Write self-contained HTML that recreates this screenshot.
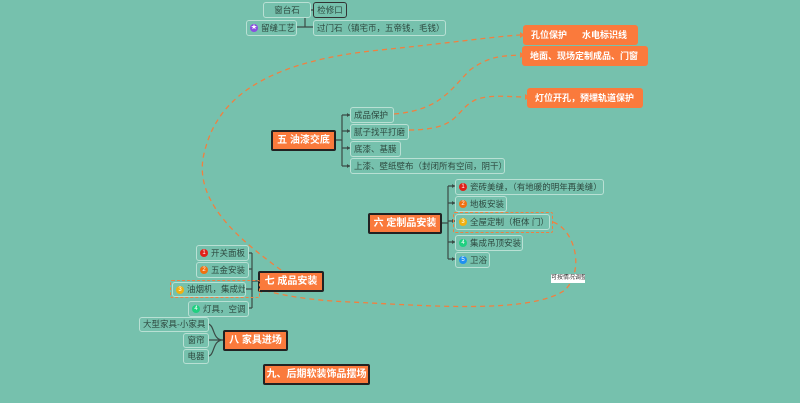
<!DOCTYPE html>
<html><head><meta charset="utf-8"><style>
html,body{margin:0;padding:0;width:800px;height:403px;overflow:hidden;background:#76c1ad;}
.b,.m,.o{position:absolute;box-sizing:border-box;display:flex;align-items:center;white-space:nowrap;overflow:hidden;font-family:"Liberation Sans","Noto Sans CJK SC",sans-serif;}
.b{border:1.5px solid #b9e0d4;border-radius:3px;font-size:8.5px;color:#2e4a40;padding:0 3px;background:#76c1ad;line-height:1;}
.m{border:2px solid #222;border-radius:2px;background:#fa7a3c;color:#fff;font-size:10px;font-weight:bold;justify-content:center;line-height:1;}
.o{border-radius:3px;background:#fa7a3c;color:#fff;font-size:9px;font-weight:bold;padding-left:8px;line-height:1;}
.i{display:inline-block;flex:none;width:8px;height:8px;border-radius:50%;color:#fff;font-size:6px;line-height:8px;text-align:center;margin-right:3px;}
.d{position:absolute;box-sizing:border-box;border:1.5px dashed #f08040;border-radius:2px;}
</style></head><body>
<svg width="800" height="403" style="position:absolute;left:0;top:0" fill="none">
<g stroke="#3a4a45" stroke-width="1.2">
<path d="M311 10H313M297 27H305M305 2V27M305 10H313M305 27H313"/>
<path d="M335 140H342M342 115V166M342 115H350M342 131H350M342 148H350M342 166H350"/>
<path d="M441 223H448M448 186V259M448 186H455M448 203H455M448 221H455M448 242H455M448 259H455"/>
<path d="M258 281H252M252 253V308M252 253H248M252 269H248M252 289H246M252 308H248"/>
<path d="M223 340C212 340 215 325 208 324M223 340H208M223 340C212 340 215 356 208 356"/>
</g>
<g stroke="#f08040" stroke-width="1.3" stroke-dasharray="5,4">
<path d="M281 270C240 240 190 200 205 150C220 90 280 60 380 50C450 43 490 37 520 35"/>
<path d="M394 114C440 110 450 90 470 70C490 55 505 56 520 55"/>
<path d="M409 130C460 130 455 110 475 100C490 94 510 97 525 97"/>
<path d="M553 222C575 230 585 270 565 290C530 315 420 305 350 302C300 300 275 293 262 290"/>
</g>
<g fill="#f08040"><path d="M520 32L525 35L520 38Z"/><path d="M520 52L525 55L520 58Z"/><path d="M525 94L530 97L525 100Z"/><path d="M262 287L257 290L262 293Z"/></g>
<g fill="#3a4a45"><path d="M350 115l-3-2v4zM350 131l-3-2v4zM350 148l-3-2v4zM350 166l-3-2v4zM455 186l-3-2v4zM455 203l-3-2v4zM455 221l-3-2v4zM455 242l-3-2v4zM455 259l-3-2v4z"/></g>
</svg>
<div class="b" style="left:263px;top:2px;width:48px;height:16px;justify-content:center">窗台石</div>
<div class="b" style="left:313px;top:2px;width:34px;height:16px;border-color:#333;justify-content:center">检修口</div>
<div class="b" style="left:246px;top:20px;width:51px;height:16px"><span class="i" style="background:#8a4fe0">★</span>留缝工艺</div>
<div class="b" style="left:313px;top:20px;width:133px;height:16px">过门石（镇宅币，五帝钱，毛钱）</div>
<div class="o" style="left:523px;top:25px;width:115px;height:20px">孔位保护&nbsp;&nbsp;&nbsp;&nbsp;&nbsp;&nbsp;水电标识线</div>
<div class="o" style="left:522px;top:46px;width:126px;height:20px">地面、现场定制成品、门窗</div>
<div class="o" style="left:527px;top:88px;width:116px;height:20px">灯位开孔，预埋轨道保护</div>
<div class="m" style="left:271px;top:130px;width:65px;height:21px">五 油漆交底</div>
<div class="b" style="left:350px;top:107px;width:44px;height:16px">成品保护</div>
<div class="b" style="left:350px;top:124px;width:59px;height:16px">腻子找平打磨</div>
<div class="b" style="left:350px;top:141px;width:51px;height:16px">底漆、基膜</div>
<div class="b" style="left:350px;top:158px;width:155px;height:16px">上漆、壁纸壁布（封闭所有空间，阴干）</div>
<div class="m" style="left:368px;top:213px;width:74px;height:21px">六 定制品安装</div>
<div class="b" style="left:455px;top:179px;width:149px;height:16px"><span class="i" style="background:#e0201a">1</span>瓷砖美缝，（有地暖的明年再美缝）</div>
<div class="b" style="left:455px;top:196px;width:52px;height:16px"><span class="i" style="background:#f07010">2</span>地板安装</div>
<div class="d" style="left:453px;top:212px;width:100px;height:21px"></div>
<div class="b" style="left:455px;top:214px;width:95px;height:16px"><span class="i" style="background:#f0b010">3</span>全屋定制（柜体 门）</div>
<div class="b" style="left:455px;top:235px;width:68px;height:16px"><span class="i" style="background:#20d080">4</span>集成吊顶安装</div>
<div class="b" style="left:455px;top:252px;width:35px;height:16px"><span class="i" style="background:#2090f0">5</span>卫浴</div>
<div style="position:absolute;left:551px;top:274px;width:34px;height:9px;background:#fff;color:#333;font:6px 'Liberation Sans','Noto Sans CJK SC',sans-serif;line-height:9px;white-space:nowrap;overflow:hidden">可按情况调整</div>
<div class="m" style="left:258px;top:271px;width:66px;height:21px">七 成品安装</div>
<div class="b" style="left:196px;top:245px;width:53px;height:16px"><span class="i" style="background:#e0201a">1</span>开关面板</div>
<div class="b" style="left:196px;top:262px;width:53px;height:16px"><span class="i" style="background:#f07010">2</span>五金安装</div>
<div class="d" style="left:170px;top:280px;width:90px;height:18px"></div>
<div class="b" style="left:172px;top:282px;width:74px;height:15px"><span class="i" style="background:#f0b010">3</span>油烟机，集成灶</div>
<div class="b" style="left:188px;top:301px;width:61px;height:16px"><span class="i" style="background:#20d080">4</span>灯具，空调</div>
<div class="m" style="left:223px;top:330px;width:65px;height:21px">八 家具进场</div>
<div class="b" style="left:139px;top:317px;width:70px;height:15px">大型家具-小家具</div>
<div class="b" style="left:183px;top:333px;width:26px;height:15px;justify-content:center">窗帘</div>
<div class="b" style="left:183px;top:349px;width:26px;height:15px;justify-content:center">电器</div>
<div class="m" style="left:263px;top:364px;width:107px;height:21px">九、后期软装饰品摆场</div>
</body></html>
